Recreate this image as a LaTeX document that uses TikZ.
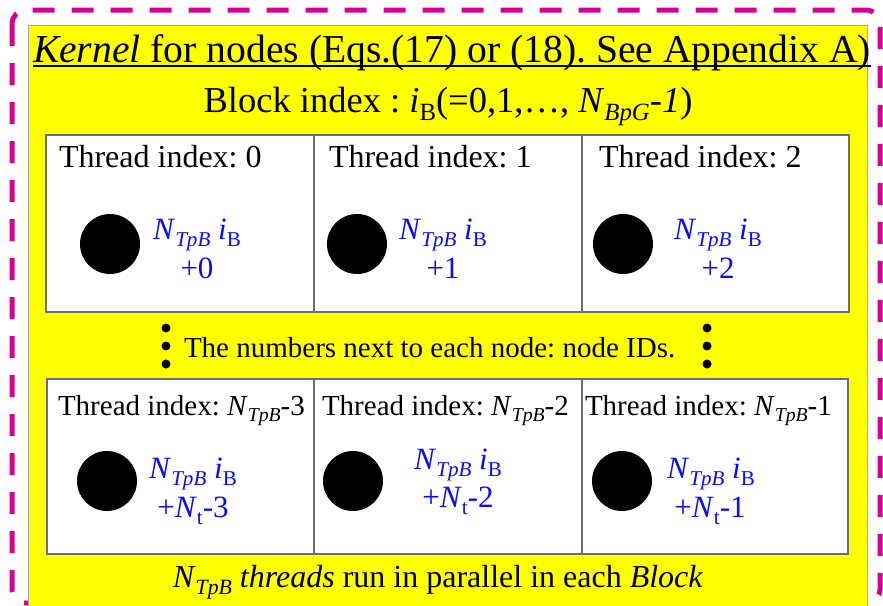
\documentclass[tikz,border=0pt]{standalone}
\usepackage{fontspec}
\setmainfont{Liberation Serif}
\frenchspacing
\definecolor{borderpink}{RGB}{214,0,147}
\definecolor{boxgray}{RGB}{110,110,110}
\definecolor{framegray}{RGB}{170,170,150}
\definecolor{idblue}{RGB}{10,10,255}
\definecolor{kernelyellow}{RGB}{255,255,0}
% lowered, reduced subscript
\newcommand{\lsub}[1]{\raisebox{-0.24em}{\scalebox{0.68}{#1}}}
\newcommand{\NTpB}{\textit{N}\lsub{\textit{TpB}}}
\newcommand{\iBlk}{\textit{i}\lsub{B}}
\newcommand{\Nt}{\textit{N}\lsub{t}}
\begin{document}
\begin{tikzpicture}[x=1pt,y=-1pt,
  txt/.style={inner sep=0pt, outer sep=0pt},
  titlefont/.style={font=\fontsize{39.6}{44}\selectfont},
  headfont/.style={font=\fontsize{36.5}{40}\selectfont},
  cellfont/.style={font=\fontsize{32}{36}\selectfont},
  lowcellfont/.style={font=\fontsize{29}{34}\selectfont},
  idfont/.style={font=\fontsize{31}{36}\selectfont, text=idblue},
  notefont/.style={font=\fontsize{29}{34}\selectfont},
  footfont/.style={font=\fontsize{32}{36}\selectfont},
  cellbox/.style={draw=boxgray, line width=1.4pt, fill=white},
  threaddot/.style={circle, fill=black, inner sep=0pt, minimum size=60pt},
  smalldot/.style={circle, fill=black, inner sep=0pt, minimum size=9pt}]

\useasboundingbox (0,0) rectangle (883,605);
\fill[white] (0,0) rectangle (883,605);

% outer dashed frame
\draw[borderpink, line width=5pt, dash pattern=on 22pt off 17pt, rounded corners=14pt]
  (12,10) rectangle (880,603);

% kernel area
\draw[framegray, line width=1pt, fill=kernelyellow] (28,25) rectangle (867,606);

% title
\node[txt, titlefont, anchor=base west] (title) at (33,62)
  {\textit{Kernel} for nodes (Eqs.(17) or (18). See Appendix A)};
\draw[line width=1.6pt] ([yshift=-4pt]title.base west) -- ([yshift=-4pt]title.base east);

% block index
\node[txt, headfont, anchor=base] (block) at (448,112)
  {Block index : \iBlk(=0,1,\ldots, \textit{N}\lsub{\textit{BpG}}-\textit{1})};

% upper row of threads
\draw[cellbox] (46,135) rectangle (314,312);
\draw[cellbox] (314,135) rectangle (582,312);
\draw[cellbox] (582,135) rectangle (849,312);

\node[txt, cellfont, anchor=base west] (t0) at (59,167) {Thread index: 0};
\node[txt, cellfont, anchor=base west] (t1) at (329,167) {Thread index: 1};
\node[txt, cellfont, anchor=base west] (t2) at (599,167) {Thread index: 2};

\node[threaddot] (d0) at (110,244) {};
\node[threaddot] (d1) at (357,244) {};
\node[threaddot] (d2) at (623,244) {};

\node[txt, idfont, anchor=base] (a0) at (197,239) {\NTpB{} \iBlk};
\node[txt, idfont, anchor=base] (b0) at (197,278) {+0};
\node[txt, idfont, anchor=base] (a1) at (443,239) {\NTpB{} \iBlk};
\node[txt, idfont, anchor=base] (b1) at (443,278) {+1};
\node[txt, idfont, anchor=base] (a2) at (718,239) {\NTpB{} \iBlk};
\node[txt, idfont, anchor=base] (b2) at (718,278) {+2};

% ellipsis between rows
\node[smalldot] (l1) at (166,328) {};
\node[smalldot] (l2) at (166,346) {};
\node[smalldot] (l3) at (166,364) {};
\node[smalldot] (r1) at (707,328) {};
\node[smalldot] (r2) at (707,346) {};
\node[smalldot] (r3) at (707,364) {};
\node[txt, notefont, anchor=base west] (note) at (184,357)
  {The numbers next to each node: node IDs.};

% lower row of threads
\draw[cellbox] (47,379) rectangle (314,554);
\draw[cellbox] (314,379) rectangle (582,554);
\draw[cellbox] (582,379) rectangle (848,554);

\node[txt, lowcellfont, anchor=base west] (t3) at (58,415) {Thread index: \NTpB-3};
\node[txt, lowcellfont, anchor=base west] (t4) at (322,415) {Thread index: \NTpB-2};
\node[txt, lowcellfont, anchor=base west] (t5) at (585,415) {Thread index: \NTpB-1};

\node[threaddot] (d3) at (107,481) {};
\node[threaddot] (d4) at (353,481) {};
\node[threaddot] (d5) at (622,481) {};

\node[txt, idfont, anchor=base] (a3) at (193,478) {\NTpB{} \iBlk};
\node[txt, idfont, anchor=base] (b3) at (193,517) {+\Nt-3};
\node[txt, idfont, anchor=base] (a4) at (458,469) {\NTpB{} \iBlk};
\node[txt, idfont, anchor=base] (b4) at (458,507) {+\Nt-2};
\node[txt, idfont, anchor=base] (a5) at (711,478) {\NTpB{} \iBlk};
\node[txt, idfont, anchor=base] (b5) at (710,517) {+\Nt-1};

% footer
\node[txt, footfont, anchor=base] (foot) at (438,587)
  {\NTpB{} \textit{threads} run in parallel in each \textit{Block}};
\end{tikzpicture}
\end{document}
